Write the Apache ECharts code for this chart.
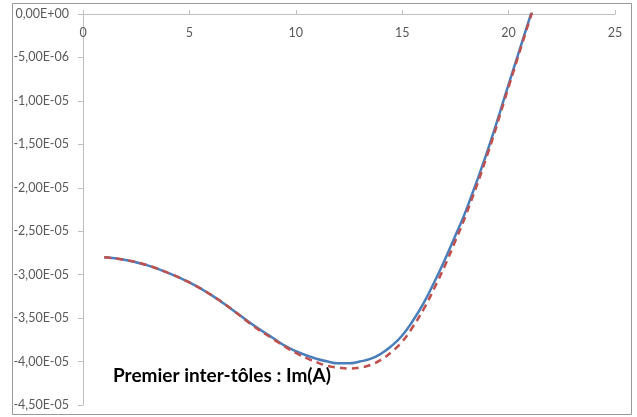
<!DOCTYPE html>
<html>
<head>
<meta charset="utf-8">
<script src="https://cdn.jsdelivr.net/npm/echarts@6/dist/echarts.min.js"></script>
<style>
  html, body { margin: 0; padding: 0; background: #fff; }
  #chart { width: 637px; height: 417px; }
</style>
</head>
<body>
<div id="chart"></div>
<script>
// positions along the x axis
var xValues = [1, 2, 3, 4, 5, 6, 7, 8, 9, 9.5, 10, 10.5, 11, 11.5, 12, 12.5, 13, 13.5, 14, 14.5,
    15, 15.5, 16, 16.5, 17, 17.5, 18, 19, 20, 21, 22];
// blue solid curve
var blueValues = [-2.80e-5, -2.83e-5, -2.89e-5, -2.98e-5, -3.09e-5, -3.23e-5, -3.40e-5, -3.58e-5, -3.74e-5, -3.82e-5,
    -3.88e-5, -3.93e-5, -3.97e-5, -4.00e-5, -4.02e-5, -4.02e-5, -4.00e-5, -3.97e-5, -3.91e-5, -3.82e-5,
    -3.70e-5, -3.53e-5, -3.33e-5, -3.09e-5, -2.83e-5, -2.55e-5, -2.26e-5, -1.58e-5, -8.1e-6, -4e-7, 7.3e-6];
// red dashed curve
var redValues = [-2.80e-5, -2.83e-5, -2.89e-5, -2.98e-5, -3.09e-5, -3.23e-5, -3.40e-5, -3.59e-5, -3.75e-5, -3.83e-5,
    -3.90e-5, -3.96e-5, -4.01e-5, -4.05e-5, -4.07e-5, -4.08e-5, -4.07e-5, -4.04e-5, -3.98e-5, -3.89e-5,
    -3.77e-5, -3.60e-5, -3.40e-5, -3.16e-5, -2.90e-5, -2.61e-5, -2.31e-5, -1.62e-5, -8.4e-6, -6e-7, 7.1e-6];
var titleText = 'Premier inter-tôles : Im(A)';

var chart = echarts.init(document.getElementById('chart'));

function fmtSci(v) {
    if (v === 0) return '0,00E+00';
    var s = Math.abs(v).toExponential(2).split('e');
    var exp = parseInt(s[1], 10);
    var e = (exp < 0 ? '-' : '+') + (Math.abs(exp) < 10 ? '0' : '') + Math.abs(exp);
    return (v < 0 ? '-' : '') + s[0].replace('.', ',') + 'E' + e;
}

function pairs(ys) {
    return xValues.map(function (x, i) { return [x, ys[i]]; });
}

var option = {
    animation: false,
    textStyle: { fontFamily: 'Lato' },
    title: {
        text: titleText,
        left: 108,
        top: 361,
        textStyle: { fontFamily: 'Lato', fontWeight: 'bold', fontSize: 19, color: '#000' }
    },
    graphic: [{
        type: 'rect',
        shape: { x: 12.5, y: 3.5, width: 619, height: 411 },
        style: { fill: null, stroke: '#999', lineWidth: 1 },
        silent: true
    }],
    grid: { left: 83, top: 14, right: 22, bottom: 12 },
    xAxis: {
        type: 'value',
        position: 'top',
        min: 0,
        max: 25,
        interval: 5,
        axisLine: { lineStyle: { color: '#bfbfbf' } },
        axisTick: { show: true, inside: false, length: 4, lineStyle: { color: '#bfbfbf' } },
        axisLabel: { inside: true, margin: 12, color: '#595959', fontSize: 12.5, fontFamily: 'Lato' },
        splitLine: { show: false }
    },
    yAxis: {
        type: 'value',
        min: -4.5e-5,
        max: 0,
        interval: 5e-6,
        axisLine: { show: true, lineStyle: { color: '#bfbfbf' } },
        axisTick: { show: true, length: 5, lineStyle: { color: '#bfbfbf' } },
        axisLabel: { margin: 14, color: '#595959', fontSize: 12.5, fontFamily: 'Lato', formatter: fmtSci },
        splitLine: { show: false }
    },
    series: [
        {
            name: 'blue',
            type: 'line',
            data: pairs(blueValues),
            smooth: 0.5,
            showSymbol: false,
            clip: true,
            lineStyle: { color: '#4a7ebb', width: 2.5 }
        },
        {
            name: 'red',
            type: 'line',
            data: pairs(redValues),
            smooth: 0.5,
            showSymbol: false,
            clip: true,
            lineStyle: { color: '#c0504d', width: 2.5, type: [7, 5] }
        }
    ]
};

chart.setOption(option);
window.addEventListener('resize', function () {
    chart.resize();
});
</script>
</body>
</html>
